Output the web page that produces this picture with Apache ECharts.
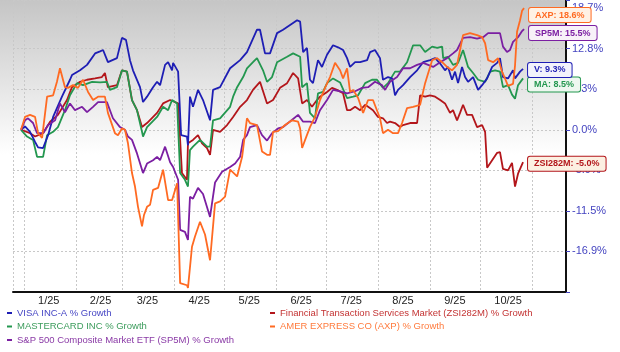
<!DOCTYPE html>
<html>
<head>
<meta charset="utf-8">
<script src="https://cdn.jsdelivr.net/npm/echarts@6/dist/echarts.min.js"></script>
<style>
  html, body { margin: 0; padding: 0; background: #fff; }
  #chart { width: 620px; height: 352px; }
</style>
</head>
<body>
<div id="chart"></div>
<script>
// month labels on the x axis (one per month band)
const monthLabels = ['1/25', '2/25', '3/25', '4/25', '5/25', '6/25', '7/25', '8/25', '9/25', '10/25']
// y ticks: evenly spaced grid steps and the text printed next to them
const yTickValues = [-18, -12, -6, 0, 6, 12, 18]
const yTickLabels = ['-16.9%', '-11.5%', '-5.9%', '0.0%', '6.3%', '12.8%', '18.7%']

const seriesNames = [
  'VISA INC-A % Growth',
  'MASTERCARD INC % Growth',
  'S&P 500 Composite Market ETF (SP5M) % Growth',
  'Financial Transaction Services Market (ZSI282M) % Growth',
  'AMER EXPRESS CO (AXP) % Growth'
]
const shortNames = ['V', 'MA', 'SP5M', 'ZSI282M', 'AXP']
const endValues = [9.3, 8.5, 15.5, -5.0, 18.6]

// [day offset from 2025-01-01, growth]
const visa = [[-1.8,0],[0.6,0.5],[3.6,-0.3],[6.6,-1.8],[8.4,-2.6],[11.4,-2.7],[14.4,-0.8],[17.4,1.9],[22.7,4.9],[27.5,7.4],[28.7,8.1],[33.5,8.8],[37.7,9.6],[42.5,11.3],[45.5,11.6],[47.3,11.8],[50.2,10.0],[55.6,10.6],[58.6,13.6],[61.0,13.3],[63.4,10.3],[65.2,8.8],[69.4,6.3],[71.2,4.1],[73.6,4.9],[77.2,6.3],[79.6,7.1],[81.4,6.6],[84.4,9.6],[86.2,10.0],[88.6,8.8],[89.2,9.9],[92.2,8.6],[94.0,-0.8],[97.5,-1.0],[98.1,-2.3],[99.3,4.9],[101.1,3.4],[104.1,5.9],[107.1,4.4],[111.3,1.4],[113.1,5.9],[117.3,6.3],[123.3,9.1],[129.3,10.3],[133.4,11.5],[139.4,14.8],[141.2,14.8],[144.2,11.3],[147.2,11.3],[151.4,14.3],[155.0,14.8],[159.2,15.5],[163.4,16.2],[165.2,16.0],[167.0,11.5],[169.3,12.1],[171.1,7.4],[172.9,6.9],[175.9,10.3],[178.3,9.3],[181.3,11.1],[184.9,12.5],[187.9,12.2],[190.9,11.8],[193.3,10.6],[195.1,9.3],[198.1,10.0],[201.1,10.0],[205.3,10.3],[207.1,11.5],[210.0,11.8],[213.0,10.6],[214.8,7.4],[217.8,7.8],[220.2,7.6],[222.0,5.1],[223.8,5.9],[226.8,6.6],[231.0,7.8],[235.2,8.8],[238.8,10.0],[243.0,10.3],[246.0,10.6],[249.0,9.8],[251.9,8.8],[253.7,9.3],[256.1,7.4],[257.9,8.6],[259.7,6.9],[262.1,9.3],[263.9,7.8],[265.7,7.1],[268.7,7.8],[271.7,5.9],[274.1,6.6],[277.1,7.6],[280.1,9.3],[283.1,9.9],[284.8,10.6],[286.6,7.8],[289.6,7.6],[292.6,8.8],[293.8,7.6],[296.8,8.6],[298.6,9.0]]
const mastercard = [[-1.8,0],[1.8,-1.0],[5.4,-1.5],[7.8,-4.0],[11.4,-4.0],[13.8,-0.8],[17.4,-0.3],[20.3,0.4],[24.5,2.9],[27.5,5.1],[31.7,6.9],[35.3,6.6],[40.7,7.1],[45.5,7.0],[49.6,7.1],[51.4,5.9],[55.6,6.3],[58.6,8.8],[61.6,8.6],[64.6,4.4],[67.6,2.9],[70.6,-0.3],[71.2,-1.0],[73.6,0.4],[79.6,1.9],[83.2,3.4],[86.2,2.9],[88.6,4.4],[91.6,3.9],[93.4,-6.4],[96.3,-7.4],[98.1,-8.4],[99.3,-3.0],[101.1,-2.5],[105.3,-1.5],[109.5,-2.5],[111.3,-2.5],[113.1,1.4],[117.3,1.7],[123.3,3.4],[125.1,4.9],[127.5,6.3],[131.1,7.8],[133.4,9.1],[137.0,10.0],[139.4,10.6],[143.0,8.8],[145.4,7.1],[148.4,7.8],[151.4,10.0],[157.4,10.8],[161.0,11.3],[165.2,10.8],[166.4,6.3],[169.3,6.9],[171.1,2.5],[174.1,1.7],[175.9,5.4],[178.9,5.6],[181.3,6.9],[184.9,7.6],[189.1,7.0],[193.3,4.7],[196.9,4.9],[199.9,5.1],[204.1,6.9],[208.2,7.4],[211.2,7.4],[214.8,6.2],[217.8,6.9],[222.0,8.6],[225.0,8.6],[229.2,10.0],[232.8,12.5],[237.0,12.5],[240.0,11.5],[244.2,12.3],[247.2,12.1],[250.2,12.3],[250.8,10.6],[253.7,10.8],[256.7,9.6],[259.7,9.9],[262.7,11.8],[265.7,9.3],[268.7,8.4],[271.7,7.4],[275.9,7.1],[278.9,8.6],[281.9,8.8],[284.8,8.6],[286.6,6.3],[289.6,6.6],[292.0,5.2],[293.8,4.6],[295.6,6.6],[298.6,7.6]]
const sp5m = [[-1.8,0],[0.6,1.4],[2.4,1.7],[5.4,1.0],[7.8,-0.5],[11.4,-0.5],[14.4,0.7],[18.6,1.4],[21.5,3.9],[24.5,2.6],[27.5,3.9],[30.5,2.9],[34.7,3.4],[37.7,2.6],[41.3,3.4],[44.3,4.1],[49.6,4.1],[53.2,1.7],[57.4,0.4],[60.4,0],[62.2,-1.0],[64.6,-1.5],[67.6,-3.5],[71.2,-6.4],[73.6,-5.0],[77.2,-4.5],[79.6,-4.0],[81.4,-4.5],[84.4,-2.5],[87.4,-4.8],[89.2,-5.5],[92.2,-7.4],[93.4,-14.8],[96.3,-15.1],[98.1,-16.3],[99.3,-9.9],[101.1,-10.2],[104.1,-8.6],[107.1,-9.5],[111.3,-12.9],[114.3,-7.8],[118.5,-6.2],[123.3,-5.5],[126.3,-5.0],[129.3,-4.0],[131.1,-1.5],[133.4,-0.8],[135.2,0.4],[139.4,0.7],[142.4,-0.8],[145.4,-1.6],[148.4,-0.5],[152.0,0.2],[155.0,0.4],[158.0,1.0],[161.0,1.6],[164.0,2.2],[167.0,1.2],[171.1,1.2],[174.1,1.0],[177.1,2.9],[181.3,4.4],[184.9,5.9],[189.1,5.7],[193.3,5.4],[198.1,5.7],[202.3,6.2],[205.9,6.3],[210.0,7.1],[214.2,6.6],[216.0,5.9],[219.0,7.1],[223.2,7.8],[226.8,9.1],[231.0,9.1],[235.2,9.6],[238.8,9.9],[241.8,9.6],[244.8,9.3],[249.0,10.0],[253.1,10.6],[256.7,11.3],[259.1,11.8],[262.7,13.6],[266.9,13.7],[271.1,13.5],[274.7,13.7],[277.7,14.3],[280.7,14.3],[284.8,14.3],[286.6,12.3],[289.0,11.5],[290.8,11.8],[292.6,13.0],[295.6,13.7],[298.0,14.6],[299.2,14.9]]
const zsi282m = [[-1.8,0],[3.6,-0.5],[6.6,-1.0],[11.4,-0.5],[15.6,1.2],[20.3,2.2],[25.7,4.4],[28.7,6.3],[33.5,7.1],[37.7,7.4],[42.5,7.6],[46.6,7.8],[48.4,8.4],[50.2,6.3],[55.6,6.6],[58.6,8.8],[61.6,8.6],[64.6,4.4],[67.6,2.9],[70.6,0.4],[73.6,1.0],[79.6,2.5],[83.2,3.9],[87.4,4.4],[90.4,4.1],[92.2,3.9],[94.5,-6.4],[97.5,-7.4],[98.1,-2.0],[101.1,-1.5],[104.1,-0.8],[106.5,-2.0],[109.5,-2.7],[111.3,-3.7],[113.1,0],[117.3,-0.3],[121.5,0.7],[125.1,1.9],[129.3,3.4],[133.4,4.4],[137.0,5.9],[141.2,7.1],[145.4,3.9],[149.0,4.4],[153.2,6.2],[157.4,6.9],[161.0,8.4],[164.0,7.6],[166.4,3.9],[169.3,4.4],[172.3,3.4],[175.3,4.4],[177.1,4.9],[181.3,5.6],[184.3,6.2],[187.3,5.9],[190.9,5.4],[193.3,2.9],[195.1,2.9],[198.1,3.4],[201.1,2.9],[204.1,3.7],[205.9,3.4],[208.8,2.9],[211.8,1.9],[214.8,1.7],[217.2,1.0],[219.0,1.2],[222.0,1.0],[225.0,0.4],[226.8,0.7],[231.0,1.0],[235.2,1.0],[237.0,5.1],[240.0,4.9],[243.0,5.1],[246.0,4.9],[249.0,4.4],[251.9,3.9],[254.9,2.5],[256.7,2.9],[259.1,1.4],[260.9,2.5],[262.7,3.7],[265.1,2.2],[268.1,2.2],[271.1,0.4],[274.1,0.7],[275.9,-0.3],[277.1,-5.6],[280.1,-4.5],[283.1,-3.4],[284.8,-3.3],[286.6,-5.8],[289.6,-6.0],[292.0,-4.9],[293.8,-8.4],[295.6,-6.5],[298.6,-4.8]]
const axp = [[-1.8,0],[0.6,1.9],[3.6,2.2],[6.6,1.9],[8.4,-0.5],[10.8,-1.2],[11.4,-1.0],[13.8,4.9],[17.4,5.1],[19.7,7.1],[21.5,9.1],[24.5,6.3],[26.3,6.2],[29.3,6.6],[32.3,6.2],[35.3,7.4],[38.3,5.6],[41.3,4.4],[44.3,4.9],[48.4,4.9],[50.2,2.5],[54.4,-0.5],[56.2,-0.8],[58.6,0.2],[60.4,0],[62.2,-2.0],[64.6,-6.4],[66.4,-8.4],[68.2,-11.4],[70.6,-14.3],[71.8,-12.6],[73.6,-11.4],[75.4,-11.1],[77.2,-8.9],[80.2,-8.6],[83.2,-5.9],[86.2,-10.4],[88.6,-10.4],[91.6,-7.9],[93.4,-22.7],[97.5,-23.0],[98.1,-23.4],[100.5,-17.3],[102.3,-15.8],[105.3,-13.6],[108.3,-15.5],[111.3,-19.3],[114.3,-10.9],[117.3,-10.6],[120.3,-9.9],[123.3,-5.9],[127.5,-6.9],[130.5,-4.0],[133.4,1.7],[135.2,1.0],[139.4,0.7],[142.4,-3.2],[145.4,-3.7],[147.2,-3.7],[149.0,-0.3],[152.0,-0.2],[156.2,0.7],[160.4,1.4],[164.0,1.2],[165.2,0.2],[166.4,-2.7],[168.2,-1.5],[171.1,0.4],[174.1,1.9],[177.1,4.4],[180.1,6.2],[183.1,7.8],[186.1,9.9],[189.1,8.8],[190.9,7.6],[193.3,9.1],[195.1,5.6],[196.9,5.9],[199.9,4.7],[202.9,2.5],[205.9,4.4],[208.8,4.4],[213.0,1.7],[214.8,-0.5],[217.8,0],[220.8,-0.5],[223.8,-0.5],[226.2,1.0],[229.2,3.2],[232.8,3.4],[237.0,3.7],[240.0,6.9],[244.2,10.3],[247.2,10.6],[250.2,10.0],[253.1,9.3],[256.1,8.8],[259.1,9.6],[260.9,11.8],[262.7,14.0],[266.9,14.3],[271.1,14.0],[274.1,13.7],[275.9,12.8],[277.7,10.3],[280.7,10.0],[283.7,10.6],[286.0,8.6],[287.8,7.6],[289.6,6.5],[292.6,6.8],[293.8,9.5],[295.0,14.5],[296.8,16.2],[298.0,17.6],[299.2,18.0]]

const DAY = 86400000
const base = new Date(2025, 0, 1).getTime()
const toTime = arr => arr.map(p => [base + p[0] * DAY, p[1]])

const FONT = '"Liberation Sans", Arial, sans-serif'
const colors = ['#1e1eb4', '#23974f', '#7b1fa2', '#b3161b', '#ff6a22']
const textColors = ['#4646c4', '#3c9c5c', '#8a3aa6', '#c43434', '#ff7b3e']
const boxFills = ['#f2f2fb', '#eef7f0', '#f8f1f8', '#fcf0e2', '#fff1e4']
const labelOffsets = [[0, 1], [0, 6], [0, 4], [0, 1.5], [0, 7]]

const bgGradient = () => new echarts.graphic.LinearGradient(0, 0, 0, 1, [
  { offset: 0, color: '#c5c5c5' },
  { offset: 0.53, color: '#ffffff' },
  { offset: 1, color: '#ffffff' }
])

const chart = echarts.init(document.getElementById('chart'))

function makeSeries(i, data) {
  return {
    name: seriesNames[i],
    type: 'line',
    data: toTime(data),
    showSymbol: false,
    symbol: 'none',
    lineStyle: { color: colors[i], width: 1.8 },
    itemStyle: { color: colors[i] },
    endLabel: {
      show: true,
      distance: 5,
      offset: labelOffsets[i],
      formatter: () => shortNames[i] + ': ' + endValues[i].toFixed(1) + '%',
      color: colors[i],
      fontFamily: FONT,
      fontSize: 9,
      fontWeight: 'bold',
      backgroundColor: boxFills[i],
      borderColor: colors[i],
      borderWidth: 1,
      borderRadius: 2,
      padding: [3, 6, 2, 6]
    }
  }
}

const legendBase = {
  top: 307, orient: 'vertical', padding: 0,
  icon: 'rect', itemWidth: 5, itemHeight: 2, itemGap: 1.5,
  textStyle: { fontFamily: FONT, fontSize: 9.5, lineHeight: 12 }
}

chart.setOption({
  animation: false,
  // gray strip left of the plot, same fade as the plot background
  graphic: [{
    type: 'rect',
    silent: true,
    shape: { x: 0, y: 0, width: 13, height: 292 },
    style: { fill: bgGradient() }
  }],
  grid: {
    left: 13, right: 54, top: 0, bottom: 60,
    show: true,
    borderWidth: 0,
    backgroundColor: bgGradient()
  },
  legend: [
    Object.assign({}, legendBase, {
      left: 7,
      data: [0, 1, 2].map(i => ({ name: seriesNames[i], textStyle: { color: textColors[i] } }))
    }),
    Object.assign({}, legendBase, {
      left: 270,
      data: [3, 4].map(i => ({ name: seriesNames[i], textStyle: { color: textColors[i] } }))
    })
  ],
  xAxis: {
    type: 'time',
    min: base - 6.6 * DAY,
    max: base + 324.3 * DAY,
    minInterval: 28 * DAY,
    maxInterval: 31 * DAY,
    splitNumber: 11,
    axisLine: { onZero: false, lineStyle: { color: '#111', width: 2 } },
    axisTick: { show: false },
    splitLine: { show: true, lineStyle: { color: '#c8c8c8', type: [2, 2] } },
    axisLabel: {
      align: 'left',
      padding: [0, 0, 0, 14],
      margin: 3,
      color: '#222',
      fontFamily: FONT,
      fontSize: 11,
      hideOverlap: false,
      formatter: function(val) {
        const d = new Date(val)
        if (d.getFullYear() !== 2025) return ''
        return monthLabels[d.getMonth()] || ''
      }
    }
  },
  yAxis: {
    type: 'value',
    position: 'right',
    min: -24,
    max: 19.2,
    interval: 6,
    axisLine: { show: true, lineStyle: { color: '#111', width: 2 } },
    axisTick: { show: true, length: 4, lineStyle: { color: '#4646c4' } },
    splitLine: { show: true, lineStyle: { color: '#c8c8c8', type: [2, 2] } },
    axisLabel: {
      margin: 6,
      color: '#4444c0',
      fontFamily: FONT,
      fontSize: 11,
      showMinLabel: true,
      showMaxLabel: true,
      formatter: function(v) {
        const idx = yTickValues.indexOf(Math.round(v * 10) / 10)
        return idx >= 0 ? yTickLabels[idx] : ''
      }
    }
  },
  series: [
    makeSeries(3, zsi282m),
    makeSeries(1, mastercard),
    makeSeries(0, visa),
    makeSeries(2, sp5m),
    makeSeries(4, axp)
  ]
})
</script>
</body>
</html>
